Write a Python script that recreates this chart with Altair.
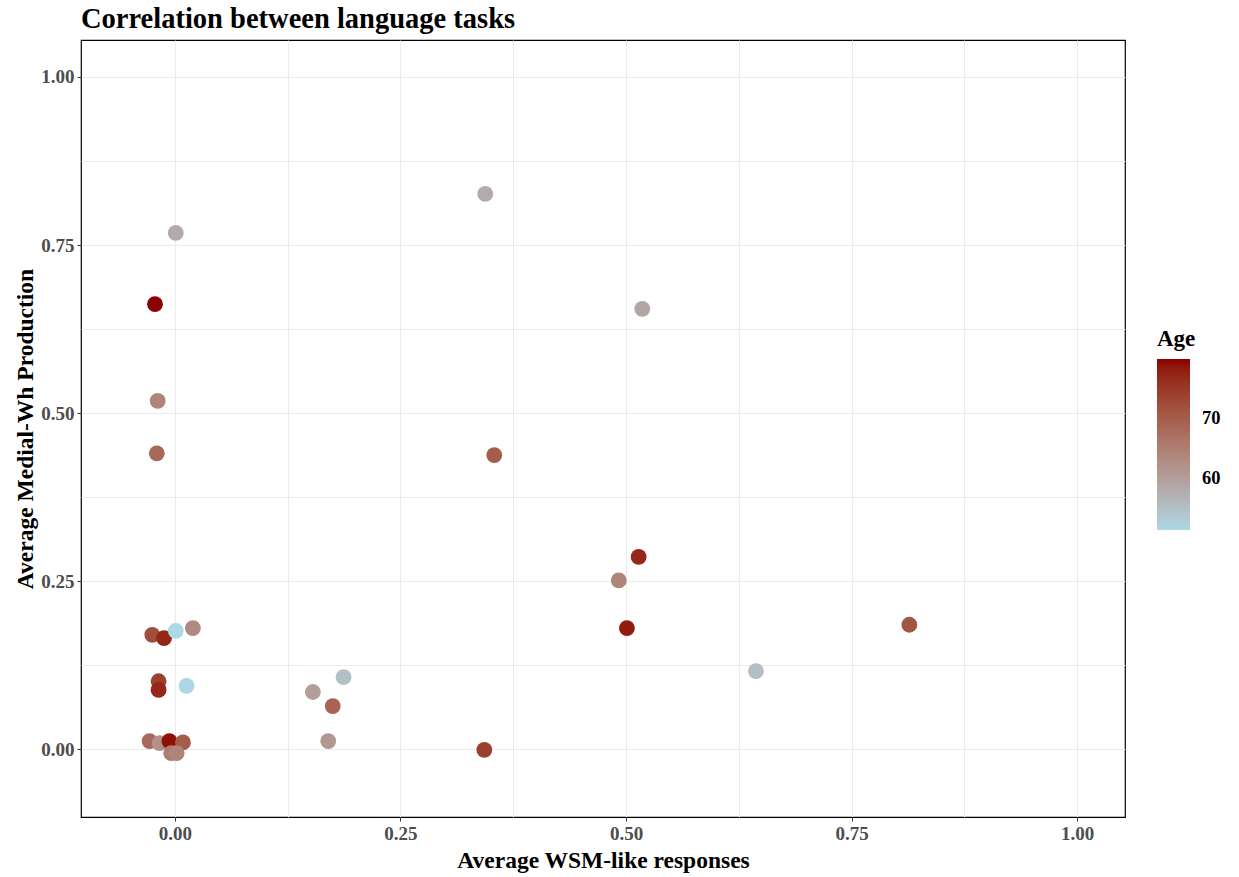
import altair as alt
import pandas as pd

wsm = [0.344, 0.001, 0.518, -0.022, -0.019, -0.020, 0.354, 0.514, 0.492, 0.501,
       0.814, 0.644, -0.025, -0.012, 0.001, 0.020, -0.018, -0.018, 0.013, 0.153,
       0.187, 0.175, 0.170, 0.343,
       -0.028, -0.017, -0.006, 0.009, -0.004, 0.002]
medial = [0.826, 0.768, 0.655, 0.662, 0.518, 0.440, 0.4375, 0.286, 0.251, 0.180,
          0.185, 0.116, 0.170, 0.165, 0.176, 0.180, 0.101, 0.088, 0.094, 0.085,
          0.107, 0.064, 0.012, -0.001,
          0.012, 0.009, 0.012, 0.010, -0.006, -0.006]
age = [58, 58, 59, 79.8, 64, 68, 70, 77, 64, 78,
       71, 55, 72, 77, 51.3, 63, 74, 77, 51.5, 60,
       55, 69, 61, 74,
       68, 62, 79, 70, 65, 64]

df = pd.DataFrame({"wsm": wsm, "medial": medial, "age": age})

serif = "Liberation Serif"
ticks = [-0.125, 0, 0.125, 0.25, 0.375, 0.5, 0.625, 0.75, 0.875, 1.0]
major_test = "abs(datum.value*4 - round(datum.value*4)) < 0.001"

def make_axis(title, title_pad):
    return alt.Axis(
        title=title, values=ticks,
        labelExpr=f"{major_test} ? format(datum.value, '.2f') : ''",
        tickOpacity={"condition": {"test": major_test, "value": 1}, "value": 0},
        grid=True, gridColor="#EBEBEB", gridWidth=1,
        domain=False, tickColor="#333333", tickSize=4,
        labelFont=serif, labelFontSize=19, labelFontWeight="bold", labelColor="#4D4D4D",
        titleFont=serif, titleFontSize=23.5, titleFontWeight="bold", titleColor="black",
        titlePadding=title_pad, labelPadding=3,
    )

chart = alt.Chart(df).mark_circle(size=250, opacity=1).encode(
    x=alt.X("wsm:Q", scale=alt.Scale(domain=[-0.104, 1.053], nice=False, zero=False),
            axis=make_axis("Average WSM-like responses", 5)),
    y=alt.Y("medial:Q", scale=alt.Scale(domain=[-0.101, 1.055], nice=False, zero=False),
            axis=make_axis("Average Medial-Wh Production", 3)),
    color=alt.Color("age:Q",
                    scale=alt.Scale(domain=[51.3, 79.8], range=["lightblue", "darkred"],
                                    interpolate="lab"),
                    legend=alt.Legend(title="Age", orient="none", legendX=1076, legendY=288,
                                      values=[60, 70], gradientLength=171, gradientThickness=33,
                                      gradientStrokeWidth=0,
                                      titleFont=serif, titleFontSize=23, titleFontWeight="bold",
                                      titlePadding=8,
                                      labelFont=serif, labelFontSize=18.5, labelFontWeight="bold",
                                      labelColor="black", labelOffset=12)),
).properties(
    width=1044, height=777,
    title=alt.Title("Correlation between language tasks", anchor="start", frame="group",
                    font=serif, fontSize=28.5, fontWeight="bold", color="black", offset=7),
    autosize=alt.AutoSizeParams(type="none"),
    padding={"left": 81, "top": 40, "right": 114, "bottom": 60},
).configure(background="white").configure_view(stroke="black", strokeWidth=1.2)

chart.save("out.html", embed_options={"renderer": "svg", "actions": False})
